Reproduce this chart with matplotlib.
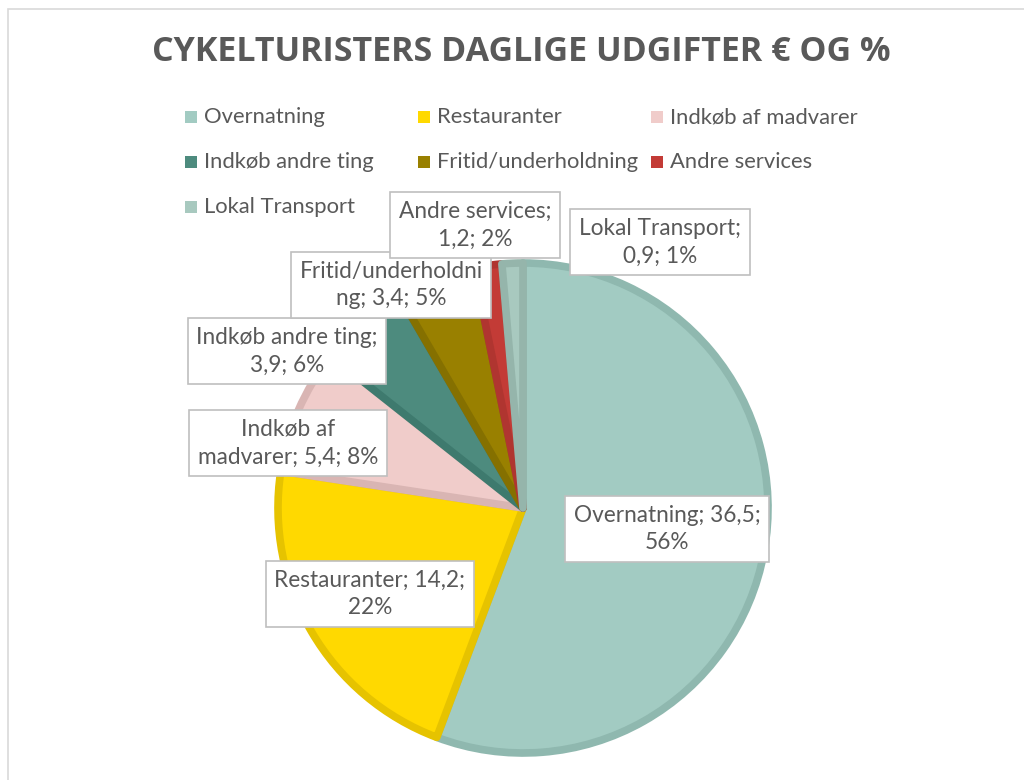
import matplotlib.pyplot as plt
from matplotlib.patches import Rectangle

labels = ['Overnatning', 'Restauranter', 'Indkøb af madvarer', 'Indkøb andre ting',
          'Fritid/underholdning', 'Andre services', 'Lokal Transport']
values = [36.5, 14.2, 5.4, 3.9, 3.4, 1.2, 0.9]
percents = ['56%', '22%', '8%', '6%', '5%', '2%', '1%']
face_colors = ['#A2CBC2', '#FFD900', '#F0CCCA', '#4D8B7E', '#998000', '#C33B36', '#A8C9BF']
edge_colors = ['#8FB8AF', '#E6C300', '#D9B5B3', '#3E7A6E', '#857000', '#B03530', '#95B5AB']

# label texts as Excel wraps them, and box centres in pixels (x, y from top)
label_texts = ['Overnatning; 36,5;\n56%', 'Restauranter; 14,2;\n22%', 'Indkøb af\nmadvarer; 5,4; 8%',
               'Indkøb andre ting;\n3,9; 6%', 'Fritid/underholdni\nng; 3,4; 5%',
               'Andre services;\n1,2; 2%', 'Lokal Transport;\n0,9; 1%']
label_pos = [(667, 529), (370, 594), (288, 443), (287, 351), (391, 285), (475, 225), (660, 242)]

W, H = 1024, 780
TXT = '#595959'
FONT = ['Lato', 'DejaVu Sans']

fig = plt.figure(figsize=(W / 100, H / 100), dpi=100)
ax = fig.add_axes([0, 0, 1, 1])

wedges, _ = ax.pie(values, colors=face_colors, startangle=90, counterclock=False,
                   center=(523, H - 508), radius=245)
for w, ec in zip(wedges, edge_colors):
    w.set_edgecolor(ec)
    w.set_linewidth(5.5)
    w.set_joinstyle('round')

ax.set_xlim(0, W)
ax.set_ylim(0, H)
ax.set_aspect('auto')
ax.axis('off')

# chart border
ax.add_patch(Rectangle((8, -10), W + 20, H - 9 + 10, fill=False, edgecolor='#D9D9D9', lw=1.2))

ax.text(521, H - 52, 'CYKELTURISTERS DAGLIGE UDGIFTER € OG %', ha='center', va='center',
        fontsize=24.5, fontweight='bold', color=TXT, family=['Open Sans', 'DejaVu Sans'])

# legend, row-major like Excel
for i, (lab, c) in enumerate(zip(labels, face_colors)):
    row, col = i // 3, i % 3
    x = 185 + col * 233
    y = H - (117 + row * 45)
    ax.add_patch(Rectangle((x, y - 6), 12, 12, facecolor=c, edgecolor='none'))
    ax.text(x + 19, y, lab, ha='left', va='center', fontsize=15.8, color=TXT, family=FONT)

for t, (x, y) in zip(label_texts, label_pos):
    ax.text(x, H - y, t, ha='center', va='center', fontsize=16.3, color=TXT, family=FONT,
            linespacing=1.4, multialignment='center',
            bbox=dict(boxstyle='square,pad=0.38', facecolor='white', edgecolor='#BFBFBF', lw=1.2))

fig.savefig('out.png', dpi=100, facecolor='white')
